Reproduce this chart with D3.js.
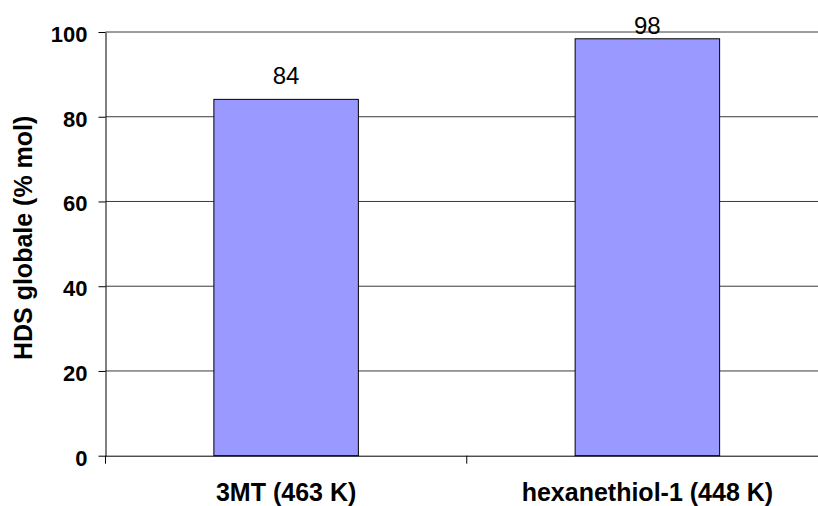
<!DOCTYPE html>
<html><head><meta charset="utf-8">
<script src="https://cdn.jsdelivr.net/npm/d3@7"></script>
<style>body{margin:0;background:#fff;overflow:hidden} text{font-family:"Liberation Sans",Arial,sans-serif}</style>
</head><body><svg id="c" width="818" height="506"></svg>
<script>
const categories = ["3MT (463 K)", "hexanethiol-1 (448 K)"];
const values = [84.1, 98.4];
const valueLabels = ["84", "98"];
const yTicks = [0, 20, 40, 60, 80, 100];
const yTitle = "HDS globale (% mol)";

const W = 818, H = 506;
const m = {left: 105.5, top: 32, right: -10, bottom: 50.3};
const svg = d3.select("#c");
const x = d3.scaleBand().domain(categories).range([m.left, W - m.right]).padding(0);
const y = d3.scaleLinear().domain([0, 100]).range([H - m.bottom, m.top]);
const bw = x.bandwidth();

// gridlines
svg.append("g").selectAll("line").data(yTicks.filter(d => d > 0)).join("line")
  .attr("x1", m.left).attr("x2", W - m.right)
  .attr("y1", d => y(d)).attr("y2", d => y(d))
  .attr("stroke", "#3a3a3a").attr("stroke-width", 1);

// bars
svg.append("g").selectAll("rect").data(categories).join("rect")
  .attr("x", c => x(c) + bw * 0.3)
  .attr("width", bw * 0.4)
  .attr("y", (c, i) => y(values[i]))
  .attr("height", (c, i) => y(0) - y(values[i]))
  .attr("fill", "#9999FF").attr("stroke", "#000").attr("stroke-width", 1);

// value labels
svg.append("g").selectAll("text").data(categories).join("text")
  .attr("x", c => x(c) + bw / 2)
  .attr("y", (c, i) => Math.max(y(values[i]) - 15, y(100) + 1.5))
  .attr("text-anchor", "middle")
  .attr("font-size", 24).attr("fill", "#000")
  .text((c, i) => valueLabels[i]);

// y axis
const ya = svg.append("g").attr("transform", `translate(${m.left},0)`)
  .call(d3.axisLeft(y).tickValues(yTicks).tickSize(7).tickSizeOuter(0).tickPadding(11));
ya.select(".domain").attr("stroke", "#000");
ya.selectAll(".tick line").attr("stroke", "#000");
ya.selectAll(".tick text").attr("font-size", 22).attr("font-weight", "bold")
  .attr("font-family", "'Liberation Sans',Arial,sans-serif").attr("fill", "#000").attr("dy", "0.43em");

// x axis
const xa = svg.append("g").attr("transform", `translate(0,${y(0)})`)
  .call(d3.axisBottom(x).tickSize(0).tickSizeOuter(0).tickPadding(0));
xa.select(".domain").attr("stroke", "#000");
xa.selectAll(".tick text").attr("font-size", 25).attr("font-weight", "bold")
  .attr("font-family", "'Liberation Sans',Arial,sans-serif").attr("fill", "#000")
  .attr("y", 45.5).attr("dy", 0);

// category boundary ticks
const bounds = categories.map(c => x(c)).concat([x(categories[categories.length - 1]) + bw]);
svg.append("g").selectAll("line").data(bounds).join("line")
  .attr("x1", d => d).attr("x2", d => d)
  .attr("y1", y(0)).attr("y2", y(0) + 8)
  .attr("stroke", "#000");

// y title
svg.append("text")
  .attr("transform", `translate(31.5,${(y(0) + y(100)) / 2 - 6}) rotate(-90)`)
  .attr("text-anchor", "middle")
  .attr("font-size", 25).attr("font-weight", "bold").attr("fill", "#000")
  .text(yTitle);
</script>
</body></html>
